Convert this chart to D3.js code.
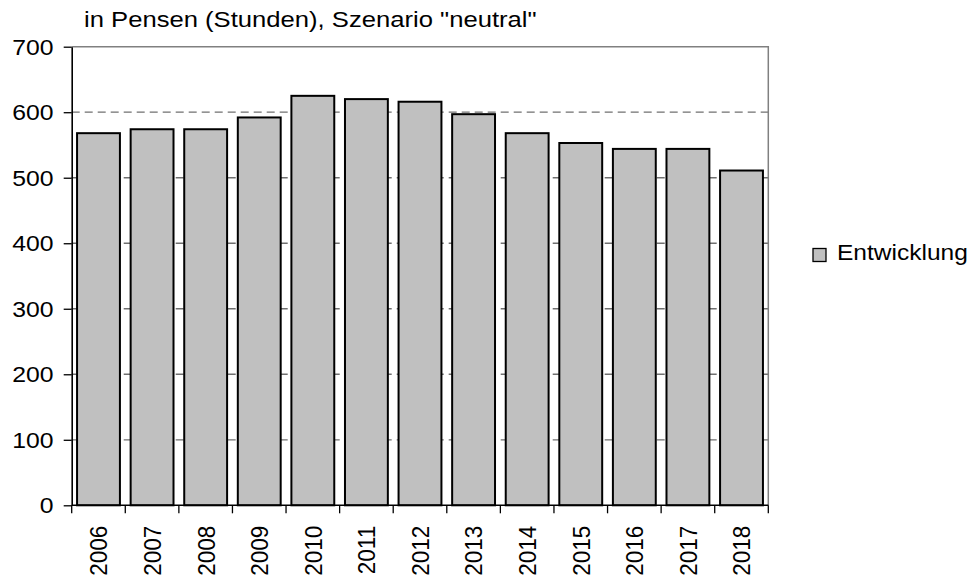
<!DOCTYPE html>
<html>
<head>
<meta charset="utf-8">
<script src="https://cdn.jsdelivr.net/npm/d3@7"></script>
<style>
  body { margin: 0; background: #fff; }
  text { font-family: Arial, "Liberation Sans", sans-serif; fill: #000; }
</style>
</head>
<body>
<div id="vis"></div>
<script>
const years = ["2006", "2007", "2008", "2009", "2010", "2011", "2012",
               "2013", "2014", "2015", "2016", "2017", "2018"];
const values = [568, 574, 574, 592, 625, 620, 616, 597, 568, 553, 544, 544, 511];
const yTicks = [0, 100, 200, 300, 400, 500, 600, 700];
const title = "in Pensen (Stunden), Szenario \"neutral\"";
const seriesName = "Entwicklung";

let WIDTH = 977;
let HEIGHT = 582;
let MARG = {left: 71.7, right: 208.7, top: 46.7, bottom: 76.7};
let VIS_WIDTH = WIDTH - MARG.left - MARG.right;
let VIS_HEIGHT = HEIGHT - MARG.top - MARG.bottom;
// the original text looks a bit stretched sideways
const STRETCH = 1.1;

const FRAME = d3.select("#vis")
  .append("svg")
    .attr("width", WIDTH)
    .attr("height", HEIGHT);

const X = d3.scaleBand()
  .domain(years)
  .range([MARG.left, MARG.left + VIS_WIDTH])
  .paddingInner(0.2)
  .paddingOuter(0.1);

const Y = d3.scaleLinear()
  .domain([0, 700])
  .range([MARG.top + VIS_HEIGHT, MARG.top]);

// dashed grid lines behind the bars
FRAME.append("g")
  .selectAll("line")
  .data(yTicks.filter(d => d > 0 && d < 700))
  .enter()
  .append("line")
    .attr("x1", MARG.left)
    .attr("x2", MARG.left + VIS_WIDTH)
    .attr("y1", d => Y(d))
    .attr("y2", d => Y(d))
    .attr("stroke", "#707070")
    .attr("stroke-width", 1.3)
    .attr("stroke-dasharray", "8,5");

// top and right frame
FRAME.append("path")
  .attr("d", "M" + MARG.left + "," + Y(700) + "H" + (MARG.left + VIS_WIDTH) + "V" + Y(0))
  .attr("fill", "none")
  .attr("stroke", "#808080")
  .attr("stroke-width", 1.5);

FRAME.selectAll(".bar")
  .data(values)
  .enter()
  .append("rect")
    .attr("class", "bar")
    .attr("x", (d, i) => X(years[i]))
    .attr("y", d => Y(d))
    .attr("width", X.bandwidth())
    .attr("height", d => Y(0) - Y(d))
    .attr("fill", "#c0c0c0")
    .attr("stroke", "#000")
    .attr("stroke-width", 2);

// y axis
const yAxis = FRAME.append("g")
  .attr("transform", "translate(" + MARG.left + ",0)")
  .call(d3.axisLeft(Y).tickValues(yTicks).tickSize(8).tickSizeOuter(0));
yAxis.select(".domain").attr("stroke", "#000").attr("stroke-width", 1.6);
yAxis.selectAll(".tick line").attr("stroke", "#000").attr("stroke-width", 1.3);
yAxis.selectAll(".tick text")
  .attr("x", -18.2 / STRETCH)
  .attr("dy", "0.34em")
  .attr("transform", "scale(" + STRETCH + ",1)")
  .style("font-size", "22.5px")
  .style("font-family", "Arial, 'Liberation Sans', sans-serif");

// x axis: baseline, ticks at category borders
const step = X.step();
const borders = years.map(d => X(d) - step * X.paddingInner() / 2)
  .concat([MARG.left + VIS_WIDTH]);
FRAME.append("line")
  .attr("x1", MARG.left)
  .attr("x2", MARG.left + VIS_WIDTH)
  .attr("y1", Y(0))
  .attr("y2", Y(0))
  .attr("stroke", "#000")
  .attr("stroke-width", 1.6);
FRAME.append("g")
  .selectAll("line")
  .data(borders)
  .enter()
  .append("line")
    .attr("x1", d => d)
    .attr("x2", d => d)
    .attr("y1", Y(0))
    .attr("y2", Y(0) + 8)
    .attr("stroke", "#000")
    .attr("stroke-width", 1.3);

FRAME.append("g")
  .selectAll("text")
  .data(years)
  .enter()
  .append("text")
    .attr("transform", d => "translate(" + (X(d) + X.bandwidth() / 2) + "," + (Y(0) + 20.5) + ") rotate(-90) scale(1," + STRETCH + ")")
    .attr("text-anchor", "end")
    .attr("dy", "0.36em")
    .style("font-size", "22.5px")
    .text(d => d);

// title
FRAME.append("text")
  .attr("transform", "translate(84,27.3) scale(1.165,1)")
  .style("font-size", "22px")
  .text(title);

// legend
const LEG = FRAME.append("g").attr("transform", "translate(813,248.5)");
LEG.append("rect")
  .attr("width", 13)
  .attr("height", 13)
  .attr("fill", "#c0c0c0")
  .attr("stroke", "#000")
  .attr("stroke-width", 1.3);
LEG.append("text")
  .attr("transform", "translate(24,11.5) scale(1.115,1)")
  .style("font-size", "22px")
  .text(seriesName);
</script>
</body>
</html>
